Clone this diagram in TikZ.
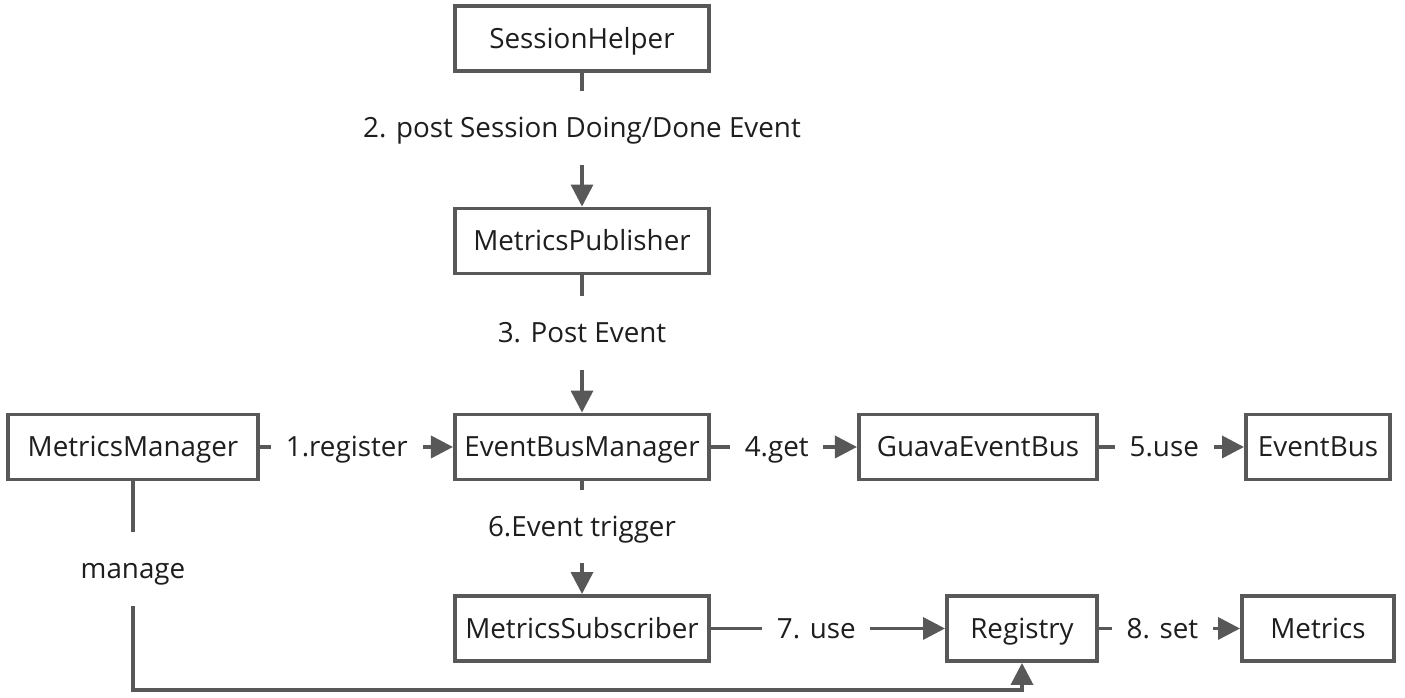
\documentclass[tikz,border=0pt]{standalone}
\usepackage{fontspec}
\setmainfont{Open Sans}
\usetikzlibrary{arrows.meta, positioning, calc}
\definecolor{edge}{RGB}{88,88,88}
\definecolor{ink}{RGB}{30,30,30}

\begin{document}
\begin{tikzpicture}[x=0.01cm, y=-0.01cm, font=\fontsize{7.9}{9}\selectfont, text=ink,
  box/.style={draw=edge, line width=1.1pt, fill=white, minimum height=0.65cm, inner sep=0pt,
    text height=1.55ex, text depth=0.5ex},
  link/.style={draw=edge, line width=1pt, -{Triangle[length=0.22cm, width=0.22cm]}},
  lbl/.style={fill=white, inner xsep=4.2pt, inner ysep=5pt, text height=1.55ex, text depth=0.5ex}]
\useasboundingbox (0,0) rectangle (1405,698);
% boxes
\foreach \n/\x/\y/\w/\t in {sh/582/38.5/2.54/SessionHelper, mp/582/241/2.54/MetricsPublisher,
    ebm/582/447/2.54/EventBusManager, mm/133/447/2.5/MetricsManager,
    geb/978/447/2.38/GuavaEventBus, eb/1318/447/1.44/EventBus,
    ms/582/628.5/2.54/MetricsSubscriber, reg/1022/628.5/1.5/Registry, met/1318/628.5/1.52/Metrics} {
  \node[box, minimum width=\w cm] (\n) at (\x,\y) {\t};
}
% vertical steps
\draw[link] (sh) -- node[lbl, pos=0.41] {2. post Session Doing/Done Event} (mp);
\draw[link] (mp) -- node[lbl, pos=0.42] {3. Post Event} (ebm);
\draw[link] (ebm) -- node[lbl, pos=0.4] {6.Event trigger} (ms);
% horizontal steps
\foreach \a/\b/\l in {mm/ebm/1.register, ebm/geb/4.get, geb/eb/5.use, ms/reg/7. use, reg/met/8. set} {
  \draw[link] (\a) -- node[lbl, pos=0.45] {\l} (\b);
}
\coordinate (turn) at (133,690);
\draw[link] (mm) -- node[lbl, pos=0.42] {manage} (turn) -| (reg);
\end{tikzpicture}
\end{document}
